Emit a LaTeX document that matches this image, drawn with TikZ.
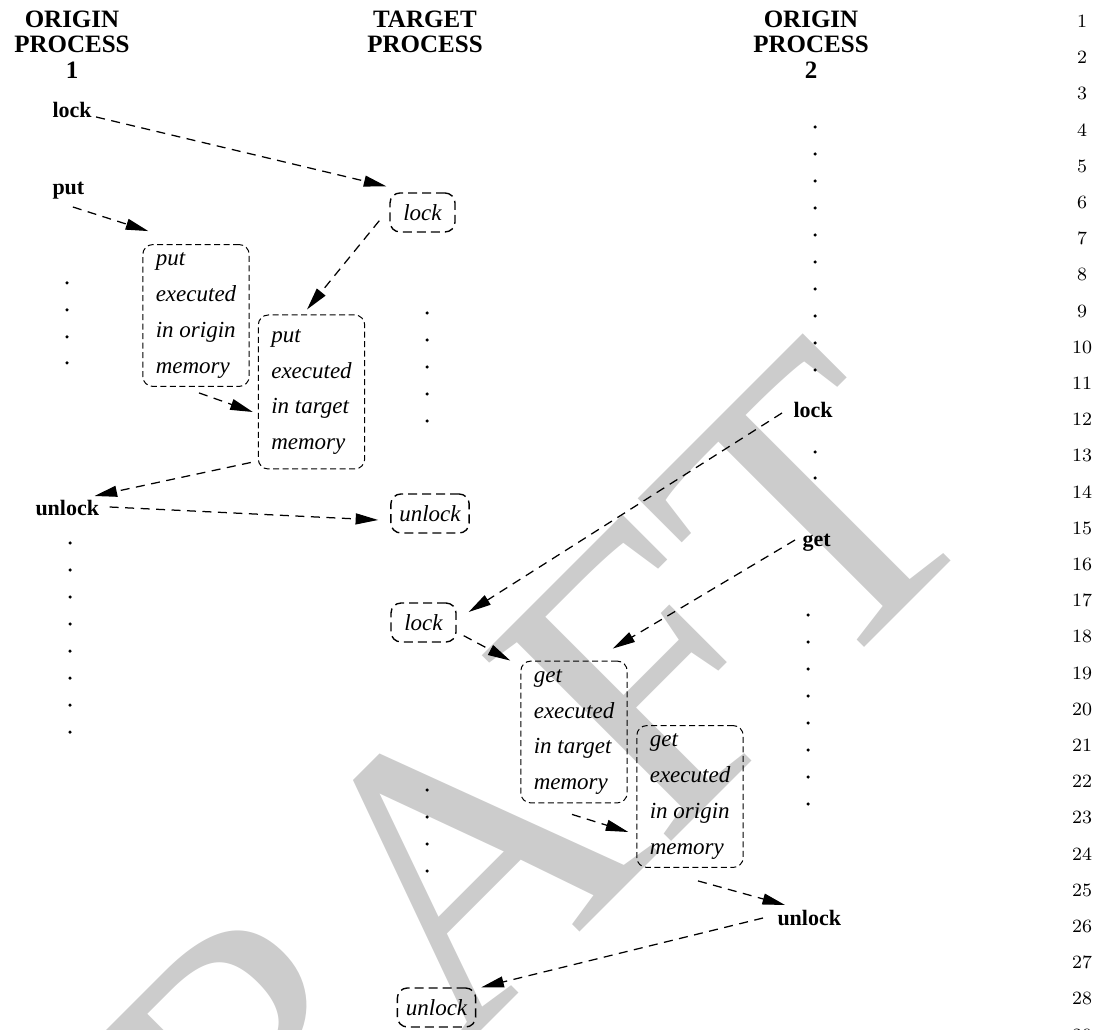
\documentclass[tikz,border=0pt]{standalone}
\usepackage{fontspec}
\newfontfamily\timesfont{Liberation Serif}
\usetikzlibrary{arrows.meta}

\begin{document}
\begin{tikzpicture}[x = 0.4pt, y = -0.4pt,
  head/.style = {font=\timesfont\bfseries\fontsize{10}{10.2}\selectfont, align=center, anchor=north, inner sep=0pt},
  call/.style = {font=\timesfont\bfseries\fontsize{8.8}{10}\selectfont, anchor=base west, inner sep=1pt},
  win/.style = {draw, dash pattern=on 3.6pt off 2pt, line width=0.55pt, rounded corners=4pt,
    font=\timesfont\itshape\fontsize{9.2}{11}\selectfont, minimum width=26pt, minimum height=15.6pt,
    inner xsep=3.4pt, inner ysep=0pt},
  mem/.style = {draw, dash pattern=on 2.4pt off 1.4pt, line width=0.4pt, rounded corners=4pt,
    font=\timesfont\itshape\fontsize{9.2}{14.3}\selectfont, align=left, minimum height=56.4pt, inner xsep=5.2pt},
  msg/.style = {line width=0.5pt, dash pattern=on 3.6pt off 2.6pt, -{Triangle[length=9pt, width=4.4pt]}},
  lineno/.style = {font=\fontsize{7.5}{9}\selectfont, inner sep=0pt}]
\path[use as bounding box] (0,0) rectangle (1097,1030);
\clip (0,0) rectangle (1097,1030);
\node[rotate=45, text=black!20, font=\timesfont\fontsize{162}{162}\selectfont, inner sep=0pt] (draft) at (432,892) {DRAFT};

\node[head] (orig1) at (72,10) {ORIGIN\\PROCESS\\1};
\node[head] (targ) at (425,10) {TARGET\\PROCESS};
\node[head] (orig2) at (811,10) {ORIGIN\\PROCESS\\2};

\node[call] (lockA) at (49.5,118) {lock};
\node[call] (putA) at (49.5,195) {put};
\node[call] (unlockA) at (32.5,516) {unlock};
\node[call] (lockB) at (790.5,418) {lock};
\node[call] (getB) at (799.5,546) {get};
\node[call] (unlockB) at (774.5,925) {unlock};

\node[win] (tlock1) at (422.5,212.5) {lock};
\node[win] (tunlock1) at (430,513.5) {unlock};
\node[win] (tlock2) at (423.5,622.5) {lock};
\node[win] (tunlock2) at (436.5,1007.5) {unlock};
\node[mem] (oput) at (196,315.5) {put\\executed\\in origin\\memory};
\node[mem, minimum height=61.6pt] (tput) at (311.5,392) {put\\executed\\in target\\memory};
\node[mem] (tget) at (574,732) {get\\executed\\in target\\memory};
\node[mem] (oget) at (690,796.5) {get\\executed\\in origin\\memory};

\draw[msg] ([shift={(1.5,-1)}]lockA.base east) -- ([shift={(-3,-6)}]tlock1.north west);
\draw[msg] ([shift={(4.5,12)}]putA.base) -- ([shift={(6,-13)}]oput.north west);
\draw[msg] ([shift={(-10,-12)}]tlock1.south west) -- ([shift={(-4.5,-5)}]tput.north);
\draw[msg] ([shift={(3,6)}]oput.south) -- ([shift={(-5,20)}]tput.west);
\draw[msg] ([shift={(-7,-7)}]tput.south west) -- ([shift={(-7.5,-20)}]unlockA.base east);
\draw[msg] ([shift={(7.5,-9)}]unlockA.base east) -- ([shift={(-12,6.5)}]tunlock1.west);
\draw[msg] ([shift={(-8.5,-5)}]lockB.base west) -- ([shift={(12,-10.5)}]tlock2.east);
\draw[msg] ([shift={(7,-7)}]tlock2.south east) -- ([shift={(-10,0)}]tget.north west);
\draw[msg] ([shift={(-4.5,-6)}]getB.base west) -- ([shift={(-15,-12)}]tget.north east);
\draw[msg] ([shift={(-2,11)}]tget.south) -- ([shift={(-8,35.5)}]oget.west);
\draw[msg] ([shift={(8,13)}]oget.south) -- ([shift={(10.5,-20)}]unlockB.base west);
\draw[msg] ([shift={(-11.5,-7)}]unlockB.base west) -- ([shift={(5,0)}]tunlock2.north east);

\foreach \y in {283,310,337,363} \fill (67,\y) circle (0.7pt);
\foreach \y in {543,570,...,740} \fill (70,\y) circle (0.7pt);
\foreach \y in {313,340,...,430} \fill (427,\y) circle (0.7pt);
\foreach \y in {790,817,...,875} \fill (427,\y) circle (0.7pt);
\foreach \y in {127,154,...,375} \fill (815,\y) circle (0.7pt);
\foreach \y in {452,478} \fill (815,\y) circle (0.7pt);
\foreach \y in {615,642,...,810} \fill (808,\y) circle (0.7pt);

\foreach \n in {1,...,29} \node[lineno] (ln\n) at (1082,{21.5+36.2*(\n-1)}) {\n};
\end{tikzpicture}
\end{document}
